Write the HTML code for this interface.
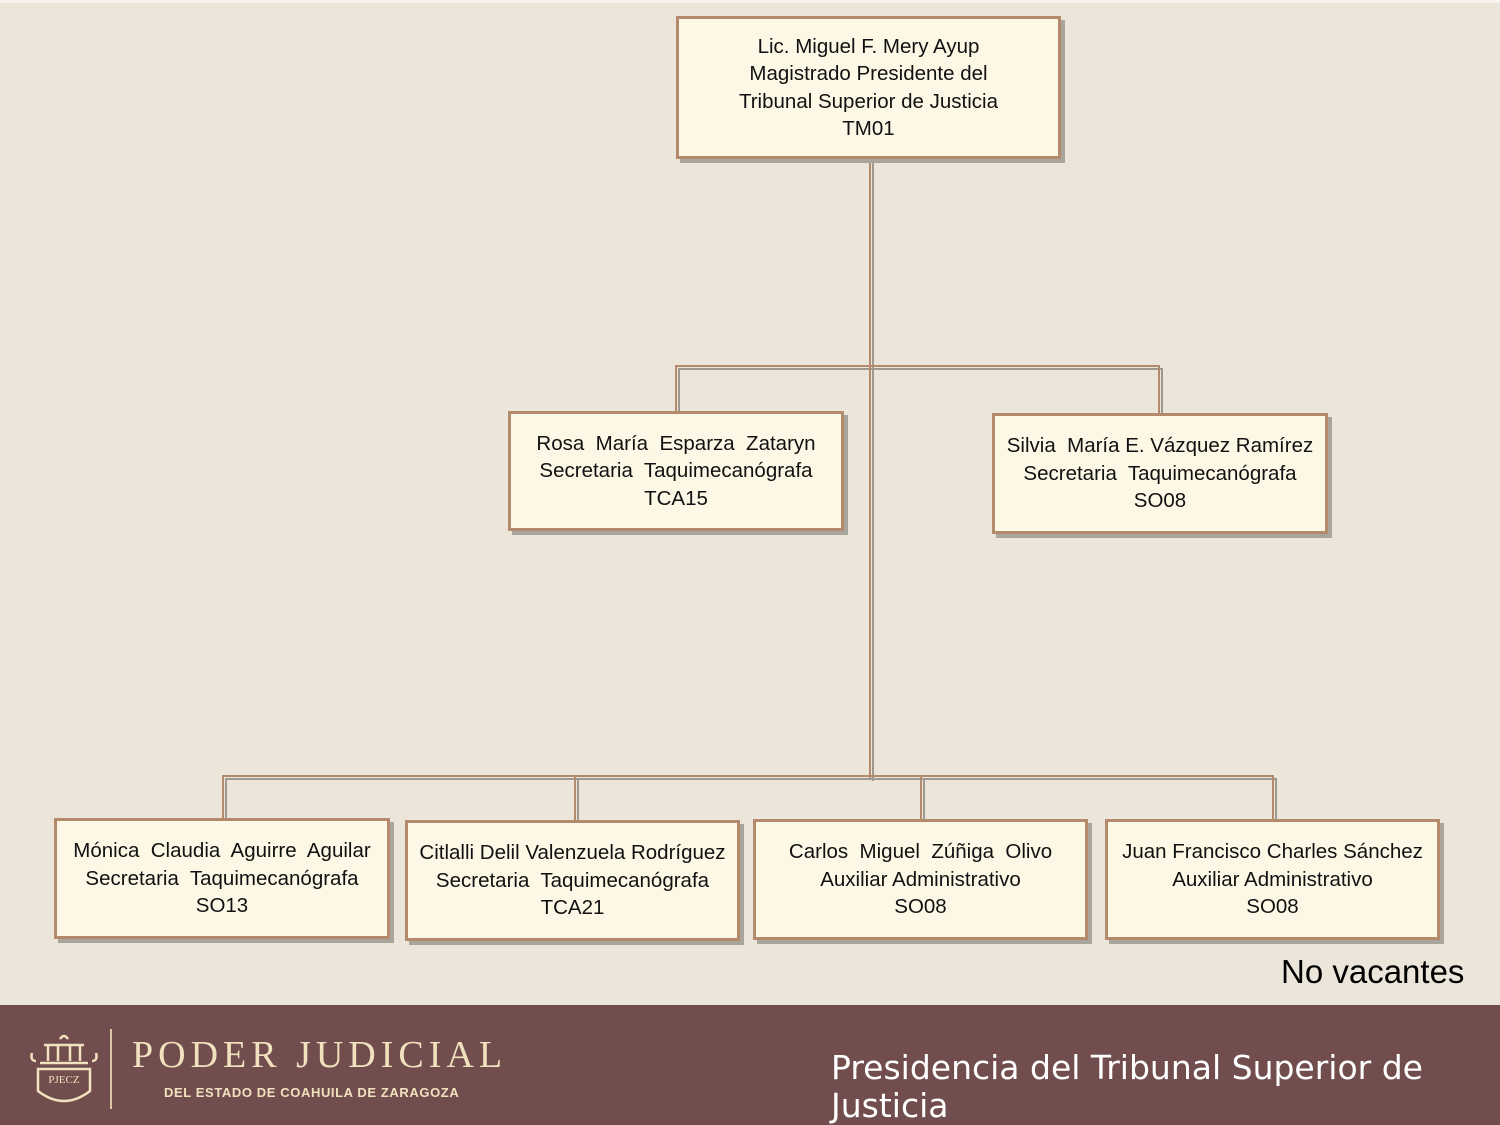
<!DOCTYPE html>
<html><head><meta charset="utf-8"><style>
body{margin:0;width:1500px;height:1125px;position:relative;overflow:hidden;background:#ece6da;font-family:"Liberation Sans",sans-serif}
.b{position:absolute;box-sizing:border-box;background:#fdf7e6;border:3px solid #b48a6c;box-shadow:4px 4px 0 #a9a49c;display:flex;align-items:center;justify-content:center;text-align:center;font-size:20.5px;line-height:27.5px;color:#111;white-space:nowrap}
.ft{position:absolute;left:0;top:1005px;width:1500px;height:120px;background:#714d4d}
</style></head><body>
<div style="position:absolute;left:0;top:0;width:1500px;height:3px;background:#f6f3ee"></div>
<svg style="position:absolute;left:0;top:0" width="1500" height="1005">
<g fill="none" stroke-width="2">
<g stroke="#9d9891" transform="translate(3,3)">
<path d="M870 160V778M676 412V366H1159V414M223 818V776H1273V820M575 821V776M921 820V776"/>
</g>
<g stroke="#b48a6c">
<path d="M870 160V778M676 412V366H1159V414M223 818V776H1273V820M575 821V776M921 820V776"/>
</g>
</g>
</svg>
<div class="b" style="left:676px;top:16px;width:385px;height:143px">Lic. Miguel F. Mery Ayup<br>Magistrado Presidente del<br>Tribunal Superior de Justicia<br>TM01</div>
<div class="b" style="left:508px;top:411px;width:336px;height:120px">Rosa&nbsp; María&nbsp; Esparza&nbsp; Zataryn<br>Secretaria&nbsp; Taquimecanógrafa<br>TCA15</div>
<div class="b" style="left:992px;top:413px;width:336px;height:121px">Silvia&nbsp; María E. Vázquez Ramírez<br>Secretaria&nbsp; Taquimecanógrafa<br>SO08</div>
<div class="b" style="left:54px;top:818px;width:336px;height:121px">Mónica&nbsp; Claudia&nbsp; Aguirre&nbsp; Aguilar<br>Secretaria&nbsp; Taquimecanógrafa<br>SO13</div>
<div class="b" style="left:405px;top:820px;width:335px;height:121px">Citlalli Delil Valenzuela Rodríguez<br>Secretaria&nbsp; Taquimecanógrafa<br>TCA21</div>
<div class="b" style="left:753px;top:819px;width:335px;height:121px">Carlos&nbsp; Miguel&nbsp; Zúñiga&nbsp; Olivo<br>Auxiliar Administrativo<br>SO08</div>
<div class="b" style="left:1105px;top:819px;width:335px;height:121px">Juan Francisco Charles Sánchez<br>Auxiliar Administrativo<br>SO08</div>
<div style="position:absolute;left:1281px;top:953px;font-size:33px;color:#000">No vacantes</div>
<div class="ft">
<svg style="position:absolute;left:28px;top:26px" width="72" height="80" viewBox="0 0 72 80" fill="none" stroke="#f1e2bf" stroke-width="2.5">
<path d="M10 38V60Q36 80 62 60V38Z"/><path d="M16 14H56M20 14V30M30 14V30M42 14V30M52 14V30M12 32H60"/><path d="M32 8Q36 2 40 8"/><path d="M4 22Q2 30 8 30M68 22Q70 30 64 30"/>
<text x="36" y="52" fill="#f1e2bf" stroke="none" font-size="11" text-anchor="middle" font-family="Liberation Serif">PJECZ</text>
</svg>
<div style="position:absolute;left:110px;top:24px;width:2px;height:80px;background:#d9c4a8"></div>
<div style="position:absolute;left:132px;top:28px;font-family:'Liberation Serif',serif;font-size:38px;letter-spacing:5px;color:#f1e2bf">PODER JUDICIAL</div>
<div style="position:absolute;left:164px;top:80px;font-size:13px;letter-spacing:0.6px;font-weight:bold;color:#f1e2bf">DEL ESTADO DE COAHUILA DE ZARAGOZA</div>
<div style="position:absolute;left:831px;top:44px;font-family:'DejaVu Sans',sans-serif;font-size:33px;line-height:38px;color:#fff;width:660px">Presidencia del Tribunal Superior de Justicia</div>
</div>
</body></html>
